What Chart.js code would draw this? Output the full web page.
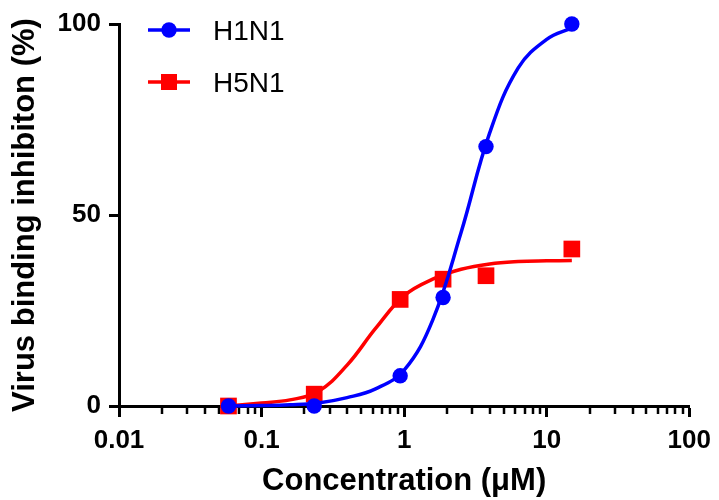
<!DOCTYPE html>
<html lang="en">
<head>
<meta charset="UTF-8">
<title>Virus binding inhibition</title>
<script src="https://cdn.jsdelivr.net/npm/chart.js"></script>
<style>
    body { margin: 0; background: #fff; }
</style>
</head>
<body>
<canvas id="myChart" width="719" height="500"></canvas>
<script>
    // measured points
    const concentrations = [0.0586, 0.234, 0.9375, 1.875, 3.75, 15];
    const h1n1Values = [0, 0, 7.9, 28.4, 67.9, 100];
    const h5n1Values = [0, 3.1, 27.9, 33.2, 34.1, 41.1];

    // fitted curves
    const fitConcentrations = [0.0586, 0.1, 0.158, 0.25, 0.398, 0.63, 1, 1.585, 2.51, 3.98, 6.31, 10, 15];
    const h1n1Fit = [0, 0.1, 0.3, 0.8, 2.2, 4.5, 9.4, 22.5, 45.5, 71.5, 88.5, 96, 99];
    const h5n1Fit = [0, 0.8, 1.6, 3.8, 10.7, 20.3, 28.9, 33.2, 35.8, 37.2, 37.8, 38, 38.1];

    const xTickValues = [0.01, 0.02, 0.03, 0.04, 0.05, 0.06, 0.07, 0.08, 0.09,
        0.1, 0.2, 0.3, 0.4, 0.5, 0.6, 0.7, 0.8, 0.9,
        1, 2, 3, 4, 5, 6, 7, 8, 9,
        10, 20, 30, 40, 50, 60, 70, 80, 90, 100];
    const xDecades = [0.01, 0.1, 1, 10, 100];
    const xTickLabels = ['0.01', '0.1', '1', '10', '100'];

    const seriesNames = ['H1N1', 'H5N1'];
    const blue = '#0000ff';
    const red = '#ff0000';
    const fontFamily = "'Liberation Sans', Arial, sans-serif";

    function toPoints(xs, ys) {
        return xs.map((x, i) => ({x: x, y: ys[i]}));
    }

    const minorTicks = {
        id: 'minorTicks',
        beforeDatasetsDraw(chart) {
            const scale = chart.scales.x;
            const ctx = chart.ctx;
            ctx.save();
            ctx.strokeStyle = '#000';
            ctx.lineWidth = 2.5;
            scale.ticks.forEach(t => {
                if (xDecades.includes(t.value)) return;
                const px = Math.round(scale.getPixelForValue(t.value));
                ctx.beginPath();
                ctx.moveTo(px, scale.top);
                ctx.lineTo(px, scale.top + 8);
                ctx.stroke();
            });
            ctx.restore();
        }
    };

    const insideLegend = {
        id: 'insideLegend',
        afterDraw(chart) {
            const ctx = chart.ctx;
            const rows = [
                {name: seriesNames[0], color: blue, style: 'circle', y: 30},
                {name: seriesNames[1], color: red, style: 'rect', y: 82}
            ];
            ctx.save();
            rows.forEach(r => {
                ctx.strokeStyle = r.color;
                ctx.fillStyle = r.color;
                ctx.lineWidth = 3.5;
                ctx.beginPath();
                ctx.moveTo(148, r.y);
                ctx.lineTo(190, r.y);
                ctx.stroke();
                if (r.style === 'circle') {
                    ctx.beginPath();
                    ctx.arc(169, r.y, 7.7, 0, Math.PI * 2);
                    ctx.fill();
                } else {
                    ctx.fillRect(161, r.y - 8, 16, 16);
                }
                ctx.fillStyle = '#000';
                ctx.font = '28px ' + fontFamily;
                ctx.textBaseline = 'middle';
                ctx.fillText(r.name, 213, r.y + 2);
            });
            ctx.restore();
        }
    };

    const ctx = document.getElementById('myChart').getContext('2d');
    new Chart(ctx, {
        type: 'scatter',
        data: {
            datasets: [
                {
                    label: seriesNames[0],
                    data: toPoints(concentrations, h1n1Values),
                    pointStyle: 'circle',
                    pointRadius: 7.7,
                    pointBorderWidth: 0,
                    backgroundColor: blue,
                    borderColor: blue,
                    clip: false
                },
                {
                    label: seriesNames[0] + ' fit',
                    data: toPoints(fitConcentrations, h1n1Fit),
                    showLine: true,
                    pointRadius: 0,
                    borderColor: blue,
                    borderWidth: 3.5,
                    tension: 0.4,
                    clip: false
                },
                {
                    label: seriesNames[1],
                    data: toPoints(concentrations, h5n1Values),
                    pointStyle: 'rect',
                    pointRadius: 11.8,
                    pointBorderWidth: 0,
                    backgroundColor: red,
                    borderColor: red,
                    clip: false
                },
                {
                    label: seriesNames[1] + ' fit',
                    data: toPoints(fitConcentrations, h5n1Fit),
                    showLine: true,
                    pointRadius: 0,
                    borderColor: red,
                    borderWidth: 3.5,
                    tension: 0.4,
                    clip: false
                }
            ]
        },
        options: {
            responsive: false,
            animation: false,
            layout: {padding: {top: 24, right: 27, left: 0, bottom: 0}},
            plugins: {
                legend: {display: false},
                tooltip: {enabled: false}
            },
            scales: {
                x: {
                    type: 'logarithmic',
                    min: 0.01,
                    max: 100,
                    afterBuildTicks: scale => {
                        scale.ticks = xTickValues.map(v => ({value: v, major: xDecades.includes(v)}));
                    },
                    afterFit: scale => { scale.height = 94; },
                    border: {color: '#000', width: 3},
                    grid: {
                        drawOnChartArea: false,
                        tickLength: 11,
                        tickWidth: 3,
                        tickColor: c => (c.tick && xDecades.includes(c.tick.value)) ? '#000' : 'rgba(0,0,0,0)'
                    },
                    ticks: {
                        autoSkip: false,
                        maxRotation: 0,
                        padding: 8,
                        color: '#000',
                        font: {family: fontFamily, size: 26, weight: 'bold'},
                        callback: value => {
                            const i = xDecades.indexOf(value);
                            return i >= 0 ? xTickLabels[i] : '';
                        }
                    },
                    title: {
                        display: true,
                        text: 'Concentration (μM)',
                        color: '#000',
                        font: {family: fontFamily, size: 31, weight: 'bold'},
                        padding: {top: 0, bottom: 0}
                    }
                },
                y: {
                    min: 0,
                    max: 100,
                    afterFit: scale => { scale.width = 119; },
                    border: {color: '#000', width: 3},
                    grid: {
                        drawOnChartArea: false,
                        tickLength: 10,
                        tickWidth: 3,
                        tickColor: '#000'
                    },
                    ticks: {
                        stepSize: 50,
                        padding: 8,
                        color: '#000',
                        font: {family: fontFamily, size: 26, weight: 'bold'}
                    },
                    title: {
                        display: true,
                        text: 'Virus binding inhibiton (%)',
                        color: '#000',
                        font: {family: fontFamily, size: 31, weight: 'bold'},
                        padding: {top: 7, bottom: 0}
                    }
                }
            }
        },
        plugins: [minorTicks, insideLegend]
    });
</script>
</body>
</html>
